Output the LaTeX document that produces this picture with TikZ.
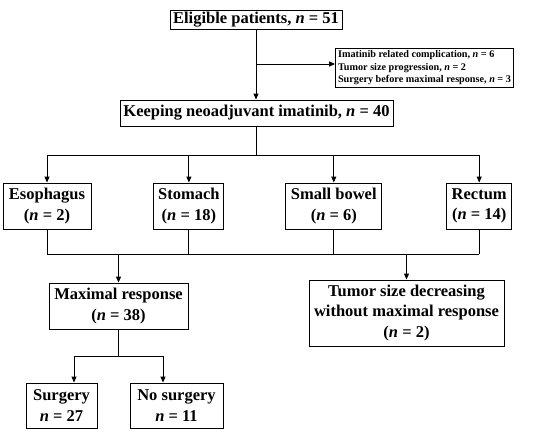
\documentclass[tikz,border=0pt]{standalone}
\usepackage{fontspec}
\setmainfont{Liberation Serif}
\usetikzlibrary{arrows.meta, positioning}
\newcommand{\nn}{\textit{n}}
\tikzset{
  fbox/.style={draw, line width=0.9pt, align=center, inner sep=1pt,
               font=\bfseries\fontsize{16.5}{20.5}\selectfont},
  sbox/.style={draw, line width=0.9pt, align=left, inner xsep=2.5pt, inner ysep=2pt,
               font=\bfseries\fontsize{10.2}{12.5}\selectfont},
  farr/.style={-{Triangle[length=6pt, width=5pt]}, line width=1pt},
  fline/.style={line width=1pt},
}

\begin{document}
\begin{tikzpicture}[x=1pt, y=-1pt]
\useasboundingbox (0,0) rectangle (550,432);
% ---- top of the chart ----
\node[fbox, minimum width=172pt, minimum height=19pt] (elig) at (256,19.5)
  {Eligible patients, \nn{} = 51};
\node[sbox, minimum width=175pt, minimum height=38pt] (excl) at (424.5,68)
  {Imatinib related complication, \nn{} = 6\\
   Tumor size progression, \nn{} = 2\\
   Surgery before maximal response, \nn{} = 3};
\node[fbox, minimum width=273pt, minimum height=26pt] (keep) at (256.5,113)
  {Keeping neoadjuvant imatinib, \nn{} = 40};
% ---- tumor site row ----
\node[fbox, minimum width=88pt, minimum height=46pt] (eso) at (47,206)
  {Esophagus\\(\nn{} = 2)};
\node[fbox, minimum width=70pt, minimum height=46pt, right=62pt of eso] (sto)
  {Stomach\\(\nn{} = 18)};
\node[fbox, minimum width=96pt, minimum height=46pt, right=61pt of sto] (sb)
  {Small bowel\\(\nn{} = 6)};
\node[fbox, minimum width=65pt, minimum height=46pt, right=64pt of sb] (rec)
  {Rectum\\(\nn{} = 14)};
% ---- response ----
\node[fbox, minimum width=139pt, minimum height=46pt] (maxr) at (118.5,306)
  {Maximal response\\(\nn{} = 38)};
\node[fbox, minimum width=195pt, minimum height=66pt] (tum) at (406.5,313)
  {Tumor size decreasing\\without maximal response\\(\nn{} = 2)};
\node[fbox, minimum width=71pt, minimum height=45pt] (surg) at (61.5,405.5)
  {Surgery\\\nn{} = 27};
\node[fbox, minimum width=93pt, minimum height=45pt] (nosurg) at (176.5,405.5)
  {No surgery\\\nn{} = 11};
% ---- connectors ----
\coordinate (br) at (257,64);
\coordinate (bus1) at (257,155);
\coordinate (bus2) at (257,254);
\coordinate (bl) at (74,356);
\coordinate (bq) at (163,356);
\draw[farr] (elig.south) -- (elig.south |- keep.north);
\draw[farr] (br) -- (br -| excl.west);
\draw[fline] (keep.south) -- (keep.south |- bus1);
\draw[fline] (eso.north |- bus1) -- (rec.north |- bus1);
\foreach \b in {eso, sto, sb, rec} {
  \draw[farr] (\b.north |- bus1) -- (\b.north);
  \draw[fline] (\b.south) -- (\b.south |- bus2);
}
\draw[fline] (eso.south |- bus2) -- (rec.south |- bus2);
\draw[farr] (maxr.north |- bus2) -- (maxr.north);
\draw[farr] (tum.north |- bus2) -- (tum.north);
\draw[fline] (maxr.south) -- (maxr.south |- bl);
\draw[fline] (bl) -- (bq);
\draw[farr] (bl) -- (bl |- surg.north);
\draw[farr] (bq) -- (bq |- nosurg.north);
\end{tikzpicture}
\end{document}
